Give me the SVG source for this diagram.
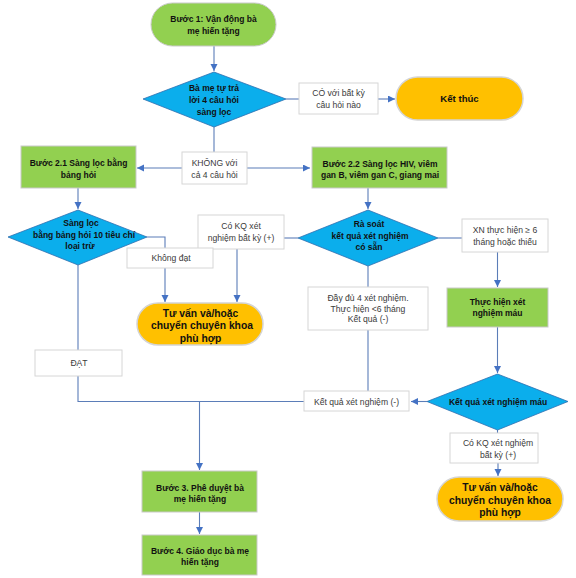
<svg xmlns="http://www.w3.org/2000/svg" width="576" height="578" viewBox="0 0 576 578">
<defs>
<style>
.green{fill:#92D050;stroke:#C9C9C9;stroke-width:1}
.orange{fill:#FFC000;stroke:#D4D4D4;stroke-width:1.5}
.dia{fill:#0BAEEC;stroke:#2E6FB0;stroke-width:0.8}
.lbl{fill:#FFFFFF;stroke:#D6D6D6;stroke-width:1}
.con{fill:none;stroke:#5B7DB8;stroke-width:1.1}
.arr{marker-end:url(#ah)}
text{font-family:"Liberation Sans",Arial,sans-serif;text-anchor:middle}
.b{font-weight:bold;font-size:8.5px;fill:#111111}
.bl{font-weight:bold;font-size:10.3px;fill:#111111}
.t{font-size:8.6px;fill:#3A3A3A}
</style>
<marker id="ah" markerUnits="userSpaceOnUse" markerWidth="8" markerHeight="8" refX="7" refY="3.5" orient="auto">
<path d="M0,0 L7,3.5 L0,7 z" fill="#4472C4"/>
</marker>
</defs>
<rect width="576" height="578" fill="#FFFFFF"/>

<g id="connectors">
<line class="con arr" x1="214" y1="46" x2="214" y2="71"/>
<line class="con" x1="286" y1="99" x2="299" y2="99"/>
<line class="con arr" x1="378" y1="99" x2="395" y2="99"/>
<line class="con" x1="214" y1="127" x2="214" y2="152"/>
<line class="con arr" x1="182" y1="168" x2="137" y2="168"/>
<line class="con arr" x1="247" y1="168" x2="310" y2="168"/>
<line class="con arr" x1="78" y1="188" x2="78" y2="209"/>
<line class="con arr" x1="368" y1="188" x2="368" y2="209"/>
<polyline class="con arr" points="147,237 165,237 165,302"/>
<line class="con arr" x1="237" y1="249" x2="237" y2="302"/>
<line class="con" x1="298" y1="238" x2="284" y2="238"/>
<line class="con" x1="438" y1="238" x2="462" y2="238"/>
<line class="con arr" x1="497.5" y1="252" x2="497.5" y2="287"/>
<line class="con arr" x1="497.5" y1="327" x2="497.5" y2="373"/>
<line class="con" x1="368" y1="266" x2="368" y2="401.5"/>
<polyline class="con" points="78,265 78,401.5 305,401.5"/>
<line class="con arr" x1="427" y1="401.5" x2="411" y2="401.5"/>
<line class="con arr" x1="199.5" y1="401.5" x2="199.5" y2="470"/>
<line class="con arr" x1="199.5" y1="512" x2="199.5" y2="534"/>
<line class="con" x1="497.5" y1="430" x2="497.5" y2="433"/>
<line class="con arr" x1="498" y1="463" x2="498" y2="476"/>
</g>

<g id="step1">
<rect class="green" x="151" y="3" width="125" height="43" rx="21.5"/>
<text class="b" x="213.5" y="22">Bước 1: Vận động bà</text>
<text class="b" x="213.5" y="34">mẹ hiến tặng</text>
</g>

<g id="q-self">
<polygon class="dia" points="143,99 214,72 286,99 214,127"/>
<text class="b" x="214" y="91">Bà mẹ tự trả</text>
<text class="b" x="214" y="103">lời 4 câu hỏi</text>
<text class="b" x="214" y="114.5">sàng lọc</text>
</g>

<g id="lbl-co">
<rect class="lbl" x="299" y="83" width="79" height="31"/>
<text class="t" x="338.5" y="96">CÓ với bất kỳ</text>
<text class="t" x="338.5" y="108">câu hỏi nào</text>
</g>

<g id="end">
<rect class="orange" x="396" y="77" width="127" height="43" rx="21.5"/>
<text class="b" x="459.5" y="102" style="font-size:9.6px">Kết thúc</text>
</g>

<g id="lbl-khong">
<rect class="lbl" x="182" y="152" width="65" height="32"/>
<text class="t" x="214.5" y="166">KHÔNG với</text>
<text class="t" x="214.5" y="177.5">cả 4 câu hỏi</text>
</g>

<g id="step21">
<rect class="green" x="21" y="146" width="115" height="42"/>
<text class="b" x="78.5" y="165.5">Bước 2.1 Sàng lọc bằng</text>
<text class="b" x="78.5" y="178">bảng hỏi</text>
</g>

<g id="step22">
<rect class="green" x="312" y="147" width="135" height="41"/>
<text class="b" x="380" y="167">Bước 2.2 Sàng lọc HIV, viêm</text>
<text class="b" x="380" y="177.5">gan B, viêm gan C, giang mai</text>
</g>

<g id="q-questionnaire">
<polygon class="dia" points="8,237 78,210 147,237 78,265"/>
<text class="b" x="81" y="226">Sàng lọc</text>
<text class="b" x="84" y="238">bằng bảng hỏi 10 tiêu chí</text>
<text class="b" x="80" y="249">loại trừ</text>
</g>

<g id="lbl-coKQ1">
<rect class="lbl" x="198" y="215" width="86" height="34"/>
<text class="t" x="241" y="229">Có KQ xét</text>
<text class="t" x="241" y="241">nghiệm bất kỳ (+)</text>
</g>

<g id="lbl-khongdat">
<rect class="lbl" x="127" y="248" width="86" height="20"/>
<text class="t" x="171" y="261">Không đạt</text>
</g>

<g id="q-review">
<polygon class="dia" points="298,238 368,210 438,238 368,266"/>
<text class="b" x="369" y="227">Rà soát</text>
<text class="b" x="370" y="238.5">kết quả xét nghiệm</text>
<text class="b" x="369" y="249.5">có sẵn</text>
</g>

<g id="lbl-xn">
<rect class="lbl" x="462" y="219" width="86" height="33"/>
<text class="t" x="505" y="233">XN thực hiện ≥ 6</text>
<text class="t" x="505" y="244.5">tháng hoặc thiếu</text>
</g>

<g id="consult1">
<rect class="orange" x="137" y="303" width="126" height="42" rx="21"/>
<text class="bl" x="200.5" y="316.5">Tư vấn và/hoặc</text>
<text class="bl" x="202" y="329">chuyển chuyên khoa</text>
<text class="bl" x="200.5" y="341.5">phù hợp</text>
</g>

<g id="blood-test">
<rect class="green" x="447" y="288" width="101" height="39"/>
<text class="b" x="497.5" y="304.5">Thực hiện xét</text>
<text class="b" x="497.5" y="316.3">nghiệm máu</text>
</g>

<g id="lbl-daydu">
<rect class="lbl" x="308" y="287" width="120" height="43"/>
<text class="t" x="368" y="301.3">Đầy đủ 4 xét nghiệm.</text>
<text class="t" x="368" y="311.8">Thực hiện &lt;6 tháng</text>
<text class="t" x="368" y="322.3">Kết quả (-)</text>
</g>

<g id="lbl-dat">
<rect class="lbl" x="35" y="350" width="87" height="26"/>
<text class="t" x="79" y="365.5">ĐẠT</text>
</g>

<g id="lbl-ketqua-neg">
<rect class="lbl" x="304" y="391" width="105" height="20"/>
<text class="t" x="356.5" y="404.5">Kết quả xét nghiệm (-)</text>
</g>

<g id="q-blood">
<polygon class="dia" points="427,401.5 497.5,374 568,401.5 497.5,430"/>
<text class="b" x="498" y="404.5">Kết quả xét nghiệm máu</text>
</g>

<g id="lbl-coKQ2">
<rect class="lbl" x="450" y="433" width="88" height="30"/>
<text class="t" x="498" y="445.7">Có KQ xét nghiệm</text>
<text class="t" x="498" y="457.5">bất kỳ (+)</text>
</g>

<g id="consult2">
<rect class="orange" x="437" y="477" width="126" height="44" rx="22"/>
<text class="bl" x="500" y="491">Tư vấn và/hoặc</text>
<text class="bl" x="500" y="503.5">chuyển chuyên khoa</text>
<text class="bl" x="500" y="516">phù hợp</text>
</g>

<g id="step3">
<rect class="green" x="142" y="471" width="115" height="41"/>
<text class="b" x="200" y="490.5">Bước 3. Phê duyệt bà</text>
<text class="b" x="200" y="501.5">mẹ hiến tặng</text>
</g>

<g id="step4">
<rect class="green" x="142" y="535" width="115" height="40"/>
<text class="b" x="200" y="553.7">Bước 4. Giáo dục bà mẹ</text>
<text class="b" x="200" y="565">hiến tặng</text>
</g>
</svg>
